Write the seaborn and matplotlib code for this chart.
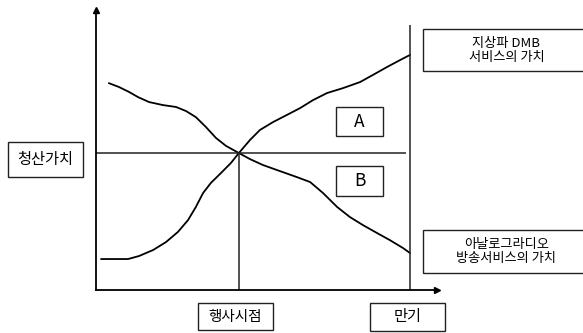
import matplotlib
matplotlib.use("Agg")
import matplotlib.pyplot as plt
import seaborn as sns
from matplotlib.patches import Rectangle

# time axis: 0 = origin, 10 = maturity ; value axis: 5 = liquidation value
dmb_t = [0.16, 1.02, 1.37, 1.82, 2.23, 2.61, 2.93, 3.18, 3.41, 3.66, 3.98,
         4.30, 4.55, 4.90, 5.22, 5.64, 6.08, 6.50, 6.91, 7.36, 7.87, 8.41,
         8.82, 9.27, 9.68, 10.0]
dmb_v = [1.13, 1.13, 1.24, 1.46, 1.75, 2.12, 2.55, 3.03, 3.54, 3.91, 4.27,
         4.64, 5.00, 5.47, 5.84, 6.13, 6.39, 6.64, 6.93, 7.19, 7.37, 7.59,
         7.85, 8.14, 8.39, 8.58]

analog_t = [0.41, 0.73, 1.05, 1.34, 1.69, 2.13, 2.55, 2.87, 3.18, 3.50, 3.82,
            4.14, 4.55, 4.90, 5.32, 5.76, 6.40, 6.82, 7.23, 7.68, 8.09, 8.50,
            8.95, 9.36, 9.78, 10.0]
analog_v = [7.55, 7.41, 7.23, 7.04, 6.86, 6.75, 6.68, 6.53, 6.31, 5.95, 5.55,
            5.26, 5.00, 4.78, 4.56, 4.38, 4.12, 3.94, 3.54, 3.03, 2.66, 2.37,
            2.08, 1.82, 1.53, 1.35]

liquidation_value = 5.0
exercise_time = 4.55
maturity_time = 10.0

label_liq = "청산가치"
label_exercise = "행사시점"
label_maturity = "만기"
label_dmb = "지상파 DMB\n서비스의 가치"
label_analog = "아날로그라디오\n방송서비스의 가치"

sns.set_style("white")
plt.rcParams['font.family'] = ['Noto Sans CJK KR', 'DejaVu Sans']

W, H = 583, 333
fig = plt.figure(figsize=(W / 100, H / 100), dpi=100)

# axes area in pixels: x 96..437, y 10..290
ax = fig.add_axes([96 / W, (H - 290) / H, (437 - 96) / W, (290 - 10) / H])
ax.set_xlim(0, 10.86)
ax.set_ylim(0, 10.22)

sns.lineplot(x=dmb_t, y=dmb_v, color="black", lw=1.3, ax=ax)
sns.lineplot(x=analog_t, y=analog_v, color="black", lw=1.3, ax=ax)

ax.hlines(liquidation_value, 0, 9.87, color="#222222", lw=1.1)
ax.vlines(exercise_time, 0, liquidation_value, color="#222222", lw=1.1)
ax.vlines(maturity_time, 0, 9.67, color="#222222", lw=1.1)

for side in ["top", "right"]:
    ax.spines[side].set_visible(False)
for side in ["left", "bottom"]:
    ax.spines[side].set_color("black")
    ax.spines[side].set_linewidth(1.3)
ax.set_xticks([])
ax.set_yticks([])
ax.plot(1, 0, ">k", ms=4, transform=ax.transAxes, clip_on=False)
ax.plot(0, 1, "^k", ms=4, transform=ax.transAxes, clip_on=False)


def box(x0, y0, x1, y1, text, size, spacing=1.25):
    # pixel rect -> figure fraction
    fig.add_artist(Rectangle((x0 / W, 1 - y1 / H), (x1 - x0) / W, (y1 - y0) / H,
                             transform=fig.transFigure, fill=False,
                             edgecolor="#222222", lw=1.0))
    fig.text((x0 + x1) / 2 / W, 1 - (y0 + y1) / 2 / H, text, ha="center",
             va="center", fontsize=size, linespacing=spacing, color="black")


box(8, 142, 83, 177, label_liq, 11)
box(198, 303, 273, 330, label_exercise, 10.5)
box(370, 303, 445, 331, label_maturity, 11)
box(423, 29, 590, 71, label_dmb, 9.5, 1.1)
box(423, 230, 590, 273, label_analog, 9.5, 1.1)
box(336, 107, 383, 136, "A", 12.5)
box(336, 166, 383, 196, "B", 12.5)

fig.savefig("out.png", dpi=100)
